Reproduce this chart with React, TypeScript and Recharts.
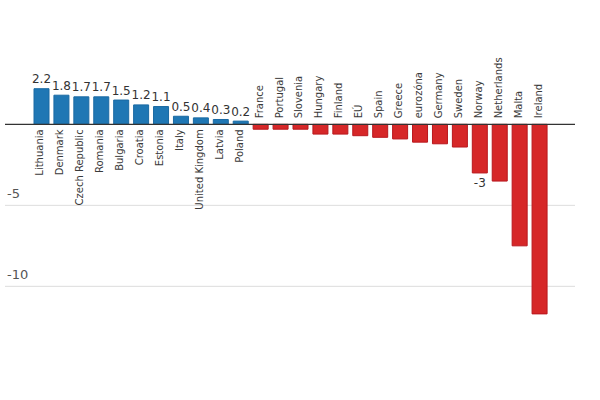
import React from "react";
import { BarChart, Bar, XAxis, YAxis, Cell, LabelList, ReferenceLine, CartesianGrid } from "recharts";

const categories = [
  "Lithuania", "Denmark", "Czech Republic", "Romania", "Bulgaria", "Croatia", "Estonia",
  "Italy", "United Kingdom", "Latvia", "Poland", "France", "Portugal", "Slovenia",
  "Hungary", "Finland", "EÚ", "Spain", "Greece", "eurozóna", "Germany", "Sweden",
  "Norway", "Netherlands", "Malta", "Ireland",
];
const values = [
  2.2, 1.8, 1.7, 1.7, 1.5, 1.2, 1.1, 0.5, 0.4, 0.3, 0.2, -0.3, -0.3, -0.3,
  -0.6, -0.6, -0.7, -0.8, -0.9, -1.1, -1.2, -1.4, -3, -3.5, -7.5, -11.7,
];
const gridTicks = [-10, -5];
const labelledNegatives = ["Norway"];

const data = categories.map((name, i) => ({ name, value: values[i] }));

const FONT = "'DejaVu Sans', sans-serif";

const ValueLabel = (props: any) => {
  const { x, y, width, height, value, index } = props;
  const name = categories[index];
  const cx = x + width / 2;
  const top = Math.min(y, y + height);
  const bottom = Math.max(y, y + height);
  if (value >= 0) {
    return (
      <text x={cx} y={top - 5.5} textAnchor="middle" fontSize={12} fill="#333" fontFamily={FONT}>
        {String(value)}
      </text>
    );
  }
  if (!labelledNegatives.includes(name)) return null;
  return (
    <text x={cx} y={bottom + 14} textAnchor="middle" fontSize={12} fill="#333" fontFamily={FONT}>
      {String(value)}
    </text>
  );
};

const CategoryLabel = (props: any) => {
  const { x, y, width, height, value } = props;
  const v = values[categories.indexOf(value)];
  const cx = x + width / 2 + 2;
  const top = Math.min(y, y + height);
  const bottom = Math.max(y, y + height);
  const zeroY = v >= 0 ? bottom : top;
  const ay = v >= 0 ? zeroY + 5 : zeroY - 6;
  return (
    <text
      x={cx}
      y={ay}
      transform={`rotate(-90 ${cx} ${ay})`}
      textAnchor={v >= 0 ? "end" : "start"}
      fontSize={10}
      fill="#3a3a3a"
      fontFamily={FONT}
    >
      {value}
    </text>
  );
};

const TickLabel = (props: any) => {
  const { viewBox, value } = props;
  if (!viewBox) return null;
  return (
    <text x={viewBox.x + 2} y={viewBox.y - 7} fontSize={13} fill="#555" fontFamily={FONT}>
      {value}
    </text>
  );
};

export default function App() {
  return (
    <div style={{ position: "absolute", left: 0, top: -2, width: 600, height: 404, background: "#fff" }}>
      <BarChart
        width={600}
        height={404}
        data={data}
        margin={{ top: 0, right: 25, bottom: 0, left: 5 }}
      >
        <CartesianGrid vertical={false} stroke="#dddddd" strokeWidth={1} />
        <XAxis dataKey="name" hide padding={{ left: 27, right: 25 }} />
        <YAxis hide type="number" domain={[-17.14, 7.8]} allowDataOverflow ticks={gridTicks} />
        <Bar dataKey="value" barSize={15} isAnimationActive={false}>
          {data.map((d, i) => (
            <Cell
              key={i}
              fill={d.value >= 0 ? "#1f77b4" : "#d62728"}
              stroke={d.value >= 0 ? "#1a6aa3" : "#b8171d"}
              strokeWidth={1}
            />
          ))}
          <LabelList dataKey="value" content={<ValueLabel />} />
          <LabelList dataKey="name" content={<CategoryLabel />} />
        </Bar>
        {gridTicks.map((t) => (
          <ReferenceLine
            key={t}
            y={t}
            stroke="none"
            label={<TickLabel value={String(t)} />}
          />
        ))}
        <ReferenceLine y={0} stroke="#333333" strokeWidth={1.3} />
      </BarChart>
    </div>
  );
}
